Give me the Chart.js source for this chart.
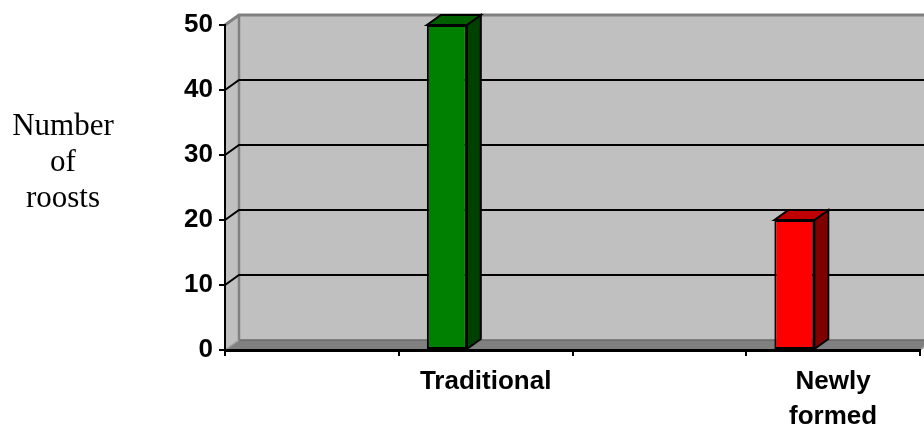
<!DOCTYPE html>
<html>
<head>
<meta charset="utf-8">
<title>Number of roosts</title>
<script src="https://cdn.jsdelivr.net/npm/chart.js@4.4.1/dist/chart.umd.min.js"></script>
<style>
  html, body { margin: 0; padding: 0; background: #ffffff; }
  #wrap { width: 924px; height: 427px; }
</style>
</head>
<body>
<div id="wrap"><canvas id="roostChart" width="924" height="427"></canvas></div>
<script>
// Category slots along the x axis (the first and third slots carry no label)
const categories = ['', 'Traditional', '', ['Newly', 'formed']];
// Number of roosts per category
const roosts = [null, 50, null, 20];
// Second, empty series: reserves the right half of every category slot
const emptySeries = [null, null, null, null];
// Value axis ticks
const yTicks = [0, 10, 20, 30, 40, 50];
// Axis title, one word per line
const yTitleLines = ['Number', 'of', 'roosts'];

// Face colours of the 3-D columns
const frontColors = ['#008000', '#008000', '#ff0000', '#ff0000'];
const topColors   = ['#006000', '#006000', '#c00000', '#c00000'];
const sideColors  = ['#004000', '#004000', '#800000', '#800000'];

// Depth of the 3-D box (horizontal and vertical shift of the back plane)
const DEPTH_X = 14;
const DEPTH_Y = 10;

function polygon(ctx, pts, fill, stroke, lw) {
  ctx.beginPath();
  ctx.moveTo(pts[0][0], pts[0][1]);
  for (let i = 1; i < pts.length; i++) ctx.lineTo(pts[i][0], pts[i][1]);
  ctx.closePath();
  if (fill) { ctx.fillStyle = fill; ctx.fill(); }
  if (stroke) { ctx.strokeStyle = stroke; ctx.lineWidth = lw || 1; ctx.lineJoin = 'miter'; ctx.stroke(); }
}

function segment(ctx, pts, color, lw) {
  ctx.beginPath();
  ctx.moveTo(pts[0][0], pts[0][1]);
  for (let i = 1; i < pts.length; i++) ctx.lineTo(pts[i][0], pts[i][1]);
  ctx.strokeStyle = color;
  ctx.lineWidth = lw;
  ctx.stroke();
}

// Back wall, side wall, floor and the gridlines on the back wall
const wallsPlugin = {
  id: 'walls',
  beforeDraw(chart) {
    const ctx = chart.ctx;
    const { left, right, top, bottom } = chart.chartArea;
    const ys = chart.scales.y;
    ctx.save();
    // back wall
    ctx.fillStyle = '#c0c0c0';
    ctx.fillRect(left + DEPTH_X, top - DEPTH_Y, right - left, bottom - top);
    // left side wall
    polygon(ctx, [[left, top], [left + DEPTH_X, top - DEPTH_Y], [left + DEPTH_X, bottom - DEPTH_Y], [left, bottom]], '#c0c0c0');
    // floor
    polygon(ctx, [[left, bottom], [left + DEPTH_X, bottom - DEPTH_Y], [right + DEPTH_X, bottom - DEPTH_Y], [right, bottom]], '#808080');
    segment(ctx, [[left + DEPTH_X, bottom - DEPTH_Y], [right + DEPTH_X, bottom - DEPTH_Y]], '#6a6a6a', 1.5);
    // wall edges
    segment(ctx, [[left, top], [left + DEPTH_X, top - DEPTH_Y], [right + DEPTH_X + 2, top - DEPTH_Y]], '#808080', 3);
    segment(ctx, [[left + DEPTH_X, top - DEPTH_Y], [left + DEPTH_X, bottom - DEPTH_Y]], '#808080', 2.5);
    segment(ctx, [[left, bottom], [left + DEPTH_X, bottom - DEPTH_Y]], '#a0a0a0', 1.5);
    segment(ctx, [[right, bottom], [right + DEPTH_X, bottom - DEPTH_Y]], '#a0a0a0', 1.5);
    // gridlines: diagonal across the side wall, then along the back wall
    yTicks.forEach(v => {
      if (v <= ys.min || v >= ys.max) return;
      const py = ys.getPixelForValue(v);
      segment(ctx, [[left, py], [left + DEPTH_X, py - DEPTH_Y], [right + DEPTH_X + 2, py - DEPTH_Y]], '#000000', 2);
    });
    ctx.restore();
  }
};

// Top and side faces of each column
const columnFacesPlugin = {
  id: 'columnFaces',
  afterDatasetsDraw(chart) {
    const ctx = chart.ctx;
    const meta = chart.getDatasetMeta(0);
    ctx.save();
    meta.data.forEach((bar, i) => {
      if (roosts[i] === null) return;
      const { x, y, base, width } = bar.getProps(['x', 'y', 'base', 'width'], true);
      const l = x - width / 2;
      const r = x + width / 2;
      polygon(ctx, [[r, y], [r + DEPTH_X, y - DEPTH_Y], [r + DEPTH_X, base - DEPTH_Y], [r, base]], sideColors[i], '#000000', 2);
      polygon(ctx, [[l, y], [l + DEPTH_X, y - DEPTH_Y], [r + DEPTH_X, y - DEPTH_Y], [r, y]], topColors[i], '#000000', 2);
    });
    ctx.restore();
  }
};

// Horizontal, stacked axis title on the left
const yTitlePlugin = {
  id: 'yTitle',
  afterDraw(chart) {
    const ctx = chart.ctx;
    ctx.save();
    ctx.font = '31px "Liberation Serif", "Times New Roman", serif';
    ctx.fillStyle = '#000000';
    ctx.textAlign = 'center';
    ctx.textBaseline = 'alphabetic';
    yTitleLines.forEach((line, i) => ctx.fillText(line, 63, 135 + i * 36));
    ctx.restore();
  }
};

const tickFont = { family: '"Liberation Sans", Arial, sans-serif', size: 26, weight: 'bold', lineHeight: 1.35 };

new Chart(document.getElementById('roostChart'), {
  type: 'bar',
  data: {
    labels: categories,
    datasets: [
      {
        label: 'Roosts',
        data: roosts,
        backgroundColor: frontColors,
        borderColor: '#000000',
        borderWidth: 2,
        borderSkipped: false,
        categoryPercentage: 0.893,
        barPercentage: 0.515
      },
      {
        label: '',
        data: emptySeries,
        categoryPercentage: 0.893,
        barPercentage: 0.515
      }
    ]
  },
  options: {
    responsive: false,
    animation: false,
    devicePixelRatio: 1,
    layout: { padding: { top: 25, right: 4, left: 0, bottom: 0 } },
    plugins: {
      legend: { display: false },
      tooltip: { enabled: false }
    },
    scales: {
      x: {
        offset: true,
        grid: { offset: true, drawOnChartArea: false, drawTicks: true, tickLength: 6, color: '#000000', lineWidth: 2 },
        border: { display: true, color: '#000000', width: 3 },
        ticks: { color: '#000000', font: tickFont, padding: 8, maxRotation: 0, minRotation: 0, autoSkip: false },
        afterFit(scale) { scale.height = 77; }
      },
      y: {
        min: 0,
        max: 50,
        afterBuildTicks(scale) { scale.ticks = yTicks.map(v => ({ value: v })); },
        grid: { drawOnChartArea: false, drawTicks: true, tickLength: 6, color: '#000000', lineWidth: 2 },
        border: { display: true, color: '#000000', width: 2 },
        ticks: { color: '#000000', font: tickFont, padding: 6 },
        afterFit(scale) { scale.width = 225; }
      }
    }
  },
  plugins: [wallsPlugin, columnFacesPlugin, yTitlePlugin]
});
</script>
</body>
</html>
